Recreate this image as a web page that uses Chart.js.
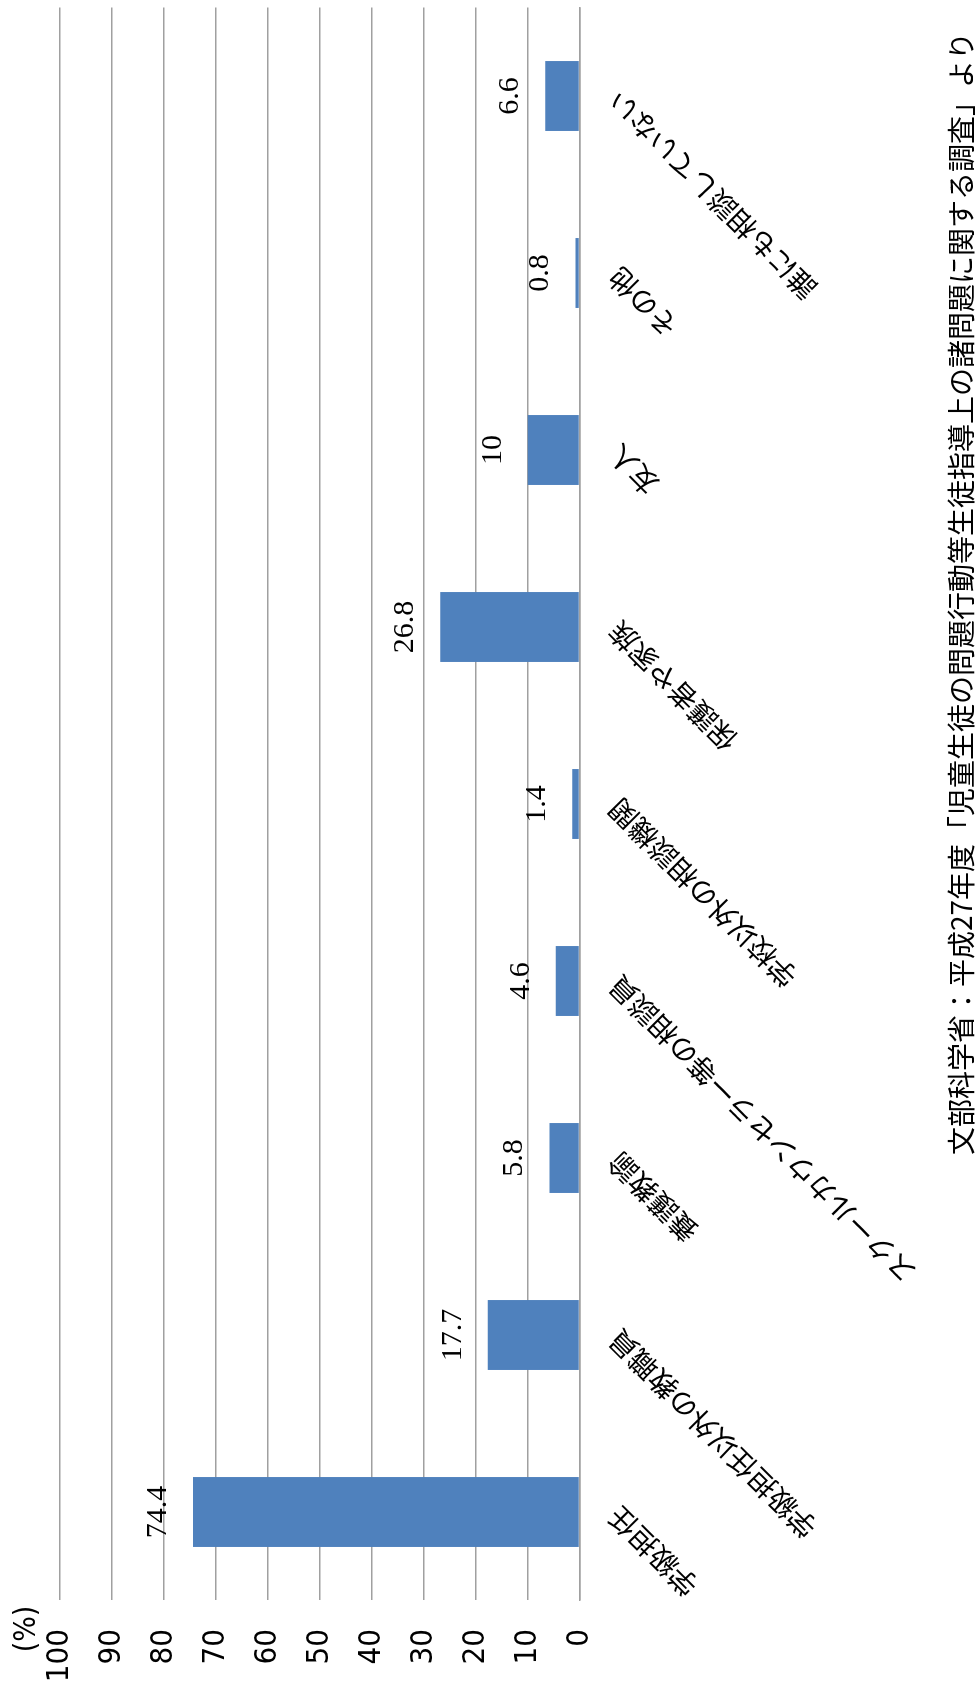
<!DOCTYPE html>
<html lang="ja">
<head>
<meta charset="utf-8">
<title>相談相手</title>
<script src="https://cdn.jsdelivr.net/npm/chart.js@4.4.1/dist/chart.umd.min.js"></script>
<style>
  html, body { margin: 0; padding: 0; background: #fff; }
  body { width: 976px; height: 1682px; overflow: hidden; position: relative; }
  /* the chart is drawn landscape and turned a quarter to the left */
  #wrap {
    position: absolute; left: 0; top: 0;
    width: 1682px; height: 976px;
    transform-origin: 0 0;
    transform: translateY(1682px) rotate(-90deg);
  }
</style>
</head>
<body>
<div id="wrap"><canvas id="myChart" width="1682" height="976"></canvas></div>
<script>
  var categories = [
    '学級担任',
    '学級担任以外の教職員',
    '養護教諭',
    'スクールカウンセラー等の相談員',
    '学校以外の相談機関',
    '保護者や家族',
    '友人',
    'その他',
    '誰にも相談していない'
  ];
  var percents = [74.4, 17.7, 5.8, 4.6, 1.4, 26.8, 10, 0.8, 6.6];
  var yTicks = [0, 10, 20, 30, 40, 50, 60, 70, 80, 90, 100];
  var unitLabel = '(%)';
  var source = '文部科学省：平成27年度「児童生徒の問題行動等生徒指導上の諸問題に関する調査」より';

  var gothic = '"Noto Sans CJK JP", "Noto Sans", sans-serif';
  var narrow = '"Liberation Sans Narrow", "Arial Narrow", "DejaVu Sans Condensed", sans-serif';

  // value above each bar + unit and source text
  var extraText = {
    id: 'extraText',
    afterDatasetsDraw: function (chart) {
      var ctx = chart.ctx;
      var meta = chart.getDatasetMeta(0);
      ctx.save();
      ctx.fillStyle = '#000';
      ctx.font = '30px "Liberation Serif", "DejaVu Serif", serif';
      ctx.textAlign = 'center';
      ctx.textBaseline = 'middle';
      meta.data.forEach(function (bar, i) {
        ctx.fillText(String(percents[i]), bar.x, bar.y - 35);
      });

      ctx.font = '30px ' + narrow;
      ctx.fillText(unitLabel, 53, 27);

      ctx.font = '28px ' + gothic;
      ctx.textAlign = 'right';
      ctx.fillText(source, 1650, 961);
      ctx.restore();
    }
  };

  var ctx = document.getElementById('myChart');
  new Chart(ctx, {
    type: 'bar',
    data: {
      labels: categories,
      datasets: [{
        data: percents,
        backgroundColor: '#4f81bd',
        borderWidth: 0,
        barPercentage: 0.395,
        categoryPercentage: 1
      }]
    },
    options: {
      responsive: false,
      animation: false,
      layout: {
        padding: { top: 60, right: 7.5, left: 0, bottom: 0 }
      },
      plugins: {
        legend: { display: false },
        tooltip: { enabled: false }
      },
      scales: {
        x: {
          grid: { display: false, drawTicks: false },
          border: { display: true, color: '#a0a0a0', width: 1.5 },
          ticks: {
            autoSkip: false,
            minRotation: 45,
            maxRotation: 45,
            padding: 22,
            color: '#000',
            font: { family: gothic, size: 28 }
          },
          afterFit: function (scale) { scale.height = 396.4; }
        },
        y: {
          min: 0,
          max: 100,
          afterBuildTicks: function (scale) {
            scale.ticks = yTicks.map(function (v) { return { value: v }; });
          },
          grid: { color: '#a0a0a0', lineWidth: 1.5, drawTicks: false },
          border: { display: false },
          ticks: {
            padding: 28.5,
            color: '#000',
            font: { family: narrow, size: 31 }
          },
          afterFit: function (scale) { scale.width = 81.5; }
        }
      }
    },
    plugins: [extraText]
  });
</script>
</body>
</html>
